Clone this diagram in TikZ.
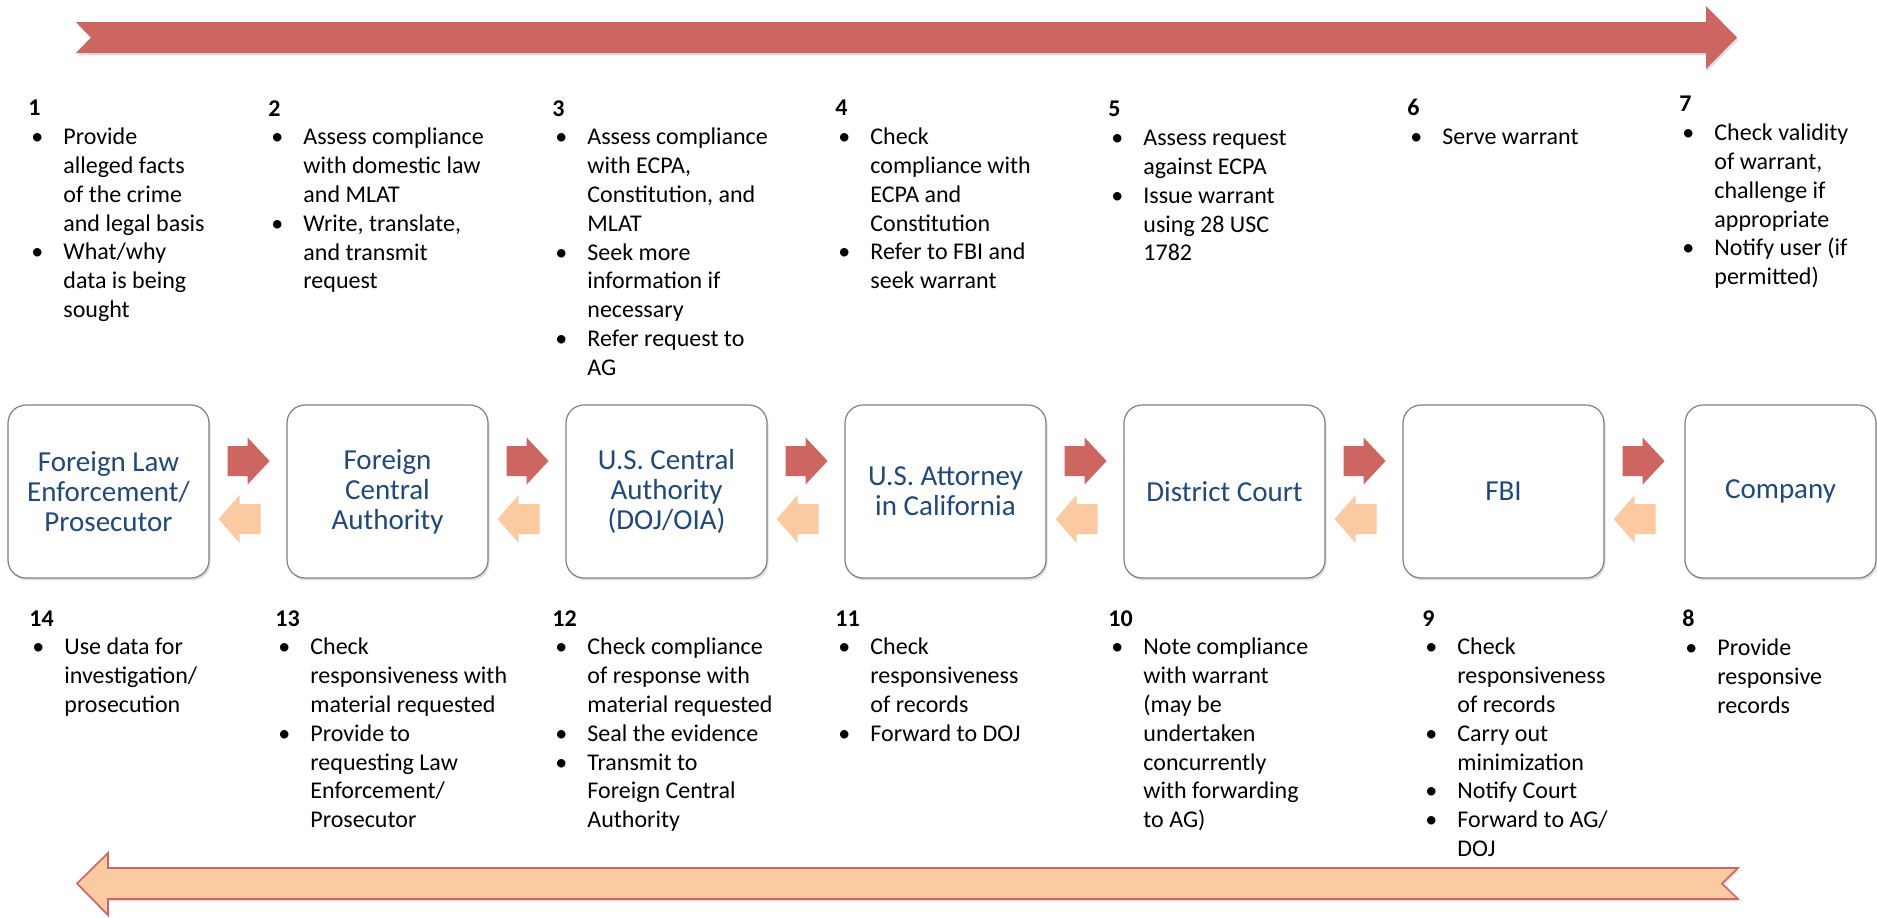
\documentclass[tikz,border=0pt]{standalone}
\usepackage{fontspec}
\setmainfont{Carlito}
\usetikzlibrary{shadows}

\definecolor{flowred}{RGB}{205,102,96}
\definecolor{flowpeach}{RGB}{251,202,160}
\definecolor{boxblue}{RGB}{31,73,125}
\definecolor{boxgray}{RGB}{128,128,128}

% bullet and continuation indent for the step lists
\newcommand{\bul}{\makebox[17.5pt][l]{\hspace{1.5pt}\textbullet}}
\newcommand{\ind}{\hspace*{17.5pt}}

\begin{document}
\begin{tikzpicture}[x=0.5pt, y=-0.5pt,
        agency/.style={rectangle, draw=boxgray, line width=0.6pt, fill=white, rounded corners=9pt,
            minimum width=100.5pt, minimum height=86.5pt, align=center, text=boxblue,
            font=\fontsize{14.5}{15}\selectfont,
            drop shadow={opacity=0.25, shadow xshift=0.8pt, shadow yshift=-1.2pt}},
        steps/.style={anchor=north west, inner sep=0pt, align=left, font=\fontsize{12}{14.4}\selectfont},
        fwdblock/.pic={\fill[flowred] (0,-15) -- (20,-15) -- (20,-23.5) -- (42,0) -- (20,23.5)
            -- (20,15) -- (0,15) -- cycle;},
        bwdblock/.pic={\fill[flowpeach] (0,0) -- (21,-24) -- (21,-15) -- (42,-15) -- (42,15)
            -- (21,15) -- (21,24) -- cycle;}
    ]
        \useasboundingbox (0,0) rectangle (1877,917);

        % Big forward arrow on top
        \fill[flowred, drop shadow={opacity=0.25, shadow xshift=0.6pt, shadow yshift=-1.2pt}]
            (76,22) -- (1706,22) -- (1706,6) -- (1737,37.5) -- (1706,69) -- (1706,53)
            -- (76,53) -- (91,37.5) -- cycle;

        % Big return arrow at the bottom
        \filldraw[fill=flowpeach, draw=flowred, line width=0.8pt,
            drop shadow={opacity=0.25, shadow xshift=0.6pt, shadow yshift=-1.2pt}]
            (77,883.5) -- (108,853) -- (108,868) -- (1738,868) -- (1722,883.5) -- (1738,899)
            -- (108,899) -- (108,915) -- cycle;

        % The agencies
        \node[agency] (fle) at (108.5,491.5) {Foreign Law\\Enforcement/\\Prosecutor};
        \node[agency] (fca) at (387.5,491.5) {Foreign\\Central\\Authority};
        \node[agency] (usca) at (666.5,491.5) {U.S. Central\\Authority\\(DOJ/OIA)};
        \node[agency] (usatty) at (945.5,491.5) {U.S. Attorney\\in California};
        \node[agency] (court) at (1224.5,491.5) {District Court};
        \node[agency] (fbi) at (1503.5,491.5) {FBI};
        \node[agency, minimum width=95.5pt] (company) at (1780.5,491.5) {Company};

        % Request going out
        \pic at ([xshift=9pt, yshift=15.25pt]fle.east) {fwdblock};
        \pic at ([xshift=9pt, yshift=15.25pt]fca.east) {fwdblock};
        \pic at ([xshift=9pt, yshift=15.25pt]usca.east) {fwdblock};
        \pic at ([xshift=9pt, yshift=15.25pt]usatty.east) {fwdblock};
        \pic at ([xshift=9pt, yshift=15.25pt]court.east) {fwdblock};
        \pic at ([xshift=9pt, yshift=15.25pt]fbi.east) {fwdblock};

        % Records coming back
        \pic at ([xshift=4.5pt, yshift=-13.75pt]fle.east) {bwdblock};
        \pic at ([xshift=4.5pt, yshift=-13.75pt]fca.east) {bwdblock};
        \pic at ([xshift=4.5pt, yshift=-13.75pt]usca.east) {bwdblock};
        \pic at ([xshift=4.5pt, yshift=-13.75pt]usatty.east) {bwdblock};
        \pic at ([xshift=4.5pt, yshift=-13.75pt]court.east) {bwdblock};
        \pic at ([xshift=4.5pt, yshift=-13.75pt]fbi.east) {bwdblock};

        % Steps 1-7 (outgoing)
        \node[steps] (step1) at (28,100) {\textbf{1}\\ \bul Provide\\ \ind alleged facts\\ \ind of the crime\\
            \ind and legal basis\\ \bul What/why\\ \ind data is being\\ \ind sought};
        \node[steps] (step2) at (268,100) {\textbf{2}\\ \bul Assess compliance\\ \ind with domestic law\\
            \ind and MLAT\\ \bul Write, translate,\\ \ind and transmit\\ \ind request};
        \node[steps] (step3) at (552,100) {\textbf{3}\\ \bul Assess compliance\\ \ind with ECPA,\\
            \ind Constitution, and\\ \ind MLAT\\ \bul Seek more\\ \ind information if\\ \ind necessary\\
            \bul Refer request to\\ \ind AG};
        \node[steps] (step4) at (835,100) {\textbf{4}\\ \bul Check\\ \ind compliance with\\ \ind ECPA and\\
            \ind Constitution\\ \bul Refer to FBI and\\ \ind seek warrant};
        \node[steps] (step5) at (1108,101) {\textbf{5}\\ \bul Assess request\\ \ind against ECPA\\
            \bul Issue warrant\\ \ind using 28 USC\\ \ind 1782};
        \node[steps] (step6) at (1407,99) {\textbf{6}\\ \bul Serve warrant};
        \node[steps] (step7) at (1679,96) {\textbf{7}\\ \bul Check validity\\ \ind of warrant,\\
            \ind challenge if\\ \ind appropriate\\ \bul Notify user (if\\ \ind permitted)};

        % Steps 8-14 (return)
        \node[steps] (step14) at (29,610) {\textbf{14}\\ \bul Use data for\\ \ind investigation/\\ \ind prosecution};
        \node[steps] (step13) at (275,610) {\textbf{13}\\ \bul Check\\ \ind responsiveness with\\
            \ind material requested\\ \bul Provide to\\ \ind requesting Law\\ \ind Enforcement/\\ \ind Prosecutor};
        \node[steps] (step12) at (552,610) {\textbf{12}\\ \bul Check compliance\\ \ind of response with\\
            \ind material requested\\ \bul Seal the evidence\\ \bul Transmit to\\ \ind Foreign Central\\
            \ind Authority};
        \node[steps] (step11) at (835,610) {\textbf{11}\\ \bul Check\\ \ind responsiveness\\ \ind of records\\
            \bul Forward to DOJ};
        \node[steps] (step10) at (1108,610) {\textbf{10}\\ \bul Note compliance\\ \ind with warrant\\
            \ind (may be\\ \ind undertaken\\ \ind concurrently\\ \ind with forwarding\\ \ind to AG)};
        \node[steps] (step9) at (1422,610) {\textbf{9}\\ \bul Check\\ \ind responsiveness\\ \ind of records\\
            \bul Carry out\\ \ind minimization\\ \bul Notify Court\\ \bul Forward to AG/\\ \ind DOJ};
        \node[steps] (step8) at (1682,610) {\textbf{8}\\ \bul Provide\\ \ind responsive\\ \ind records};
    \end{tikzpicture}
\end{document}
